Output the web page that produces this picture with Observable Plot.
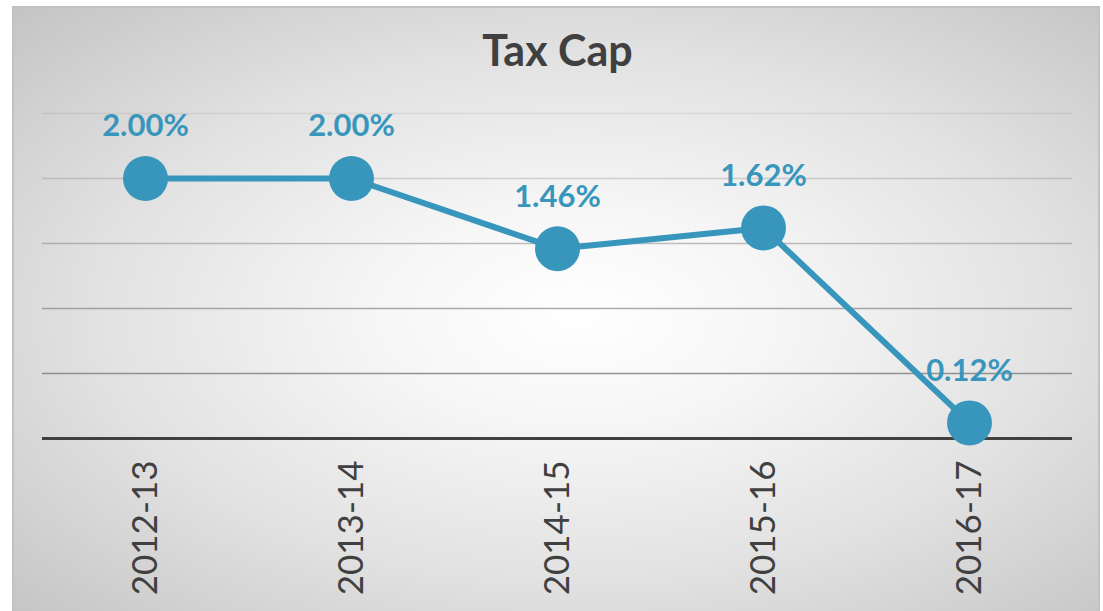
<!DOCTYPE html>
<html>
<head>
<meta charset="utf-8">
<script src="https://cdn.jsdelivr.net/npm/d3@7"></script>
<script src="https://cdn.jsdelivr.net/npm/@observablehq/plot@0.6"></script>
<style>
  html, body { margin: 0; padding: 0; background: #ffffff; overflow: hidden; }
  #wrap { position: relative; width: 1103px; height: 611px; }
  #bg {
    position: absolute; left: 12px; top: 6px; width: 1088px; height: 620px;
    border: 2px solid #c2c2c2; box-sizing: border-box;
    background: radial-gradient(ellipse farthest-corner at 52% 50%, #ffffff 0%, #f6f6f6 25%, #e2e2e2 60%, #c4c4c4 100%);
  }
  #chart { position: absolute; left: 0; top: 0; }
  #chart svg { background: transparent !important; }
</style>
</head>
<body>
<div id="wrap"><div id="bg"></div><div id="chart"></div></div>
<script>
const title = "Tax Cap";
const years = ["2012-13", "2013-14", "2014-15", "2015-16", "2016-17"];
const caps = [2.00, 2.00, 1.46, 1.62, 0.12];
const gridTicks = [0.5, 1.0, 1.5, 2.0, 2.5];

const data = years.map((y, i) => ({year: y, cap: caps[i]}));
const blue = "#3896bd";
const font = "Lato, 'Open Sans', sans-serif";

const chart = Plot.plot({
  width: 1103,
  height: 611,
  marginLeft: 42,
  marginRight: 31,
  marginTop: 113,
  marginBottom: 173,
  style: {background: "transparent", fontFamily: font},
  x: {type: "point", domain: years, padding: 0.5, label: null},
  y: {domain: [0, 2.5], axis: null},
  marks: [
    Plot.ruleY(gridTicks, {stroke: "#808080", strokeWidth: 1.5,
      strokeOpacity: d => 1.0 - d * 0.34}),
    Plot.ruleY([0], {stroke: "#404040", strokeWidth: 3}),
    Plot.axisX({tickRotate: -90, tickSize: 0, tickPadding: 22, fontSize: 35, fill: "#404040", label: null}),
    Plot.line(data, {x: "year", y: "cap", stroke: blue, strokeWidth: 6}),
    Plot.dot(data, {x: "year", y: "cap", r: 22.5, fill: blue, stroke: "none"}),
    Plot.text(data, {x: "year", y: "cap", text: d => d.cap.toFixed(2) + "%", dy: -52,
      fill: blue, fontSize: 31, fontWeight: "bold", fontFamily: font}),
    Plot.text([title], {frameAnchor: "top", dy: -61, fontSize: 43, fontWeight: "bold",
      fill: "#404040", fontFamily: font, lineAnchor: "middle"})
  ]
});
document.getElementById("chart").appendChild(chart);
</script>
</body>
</html>
